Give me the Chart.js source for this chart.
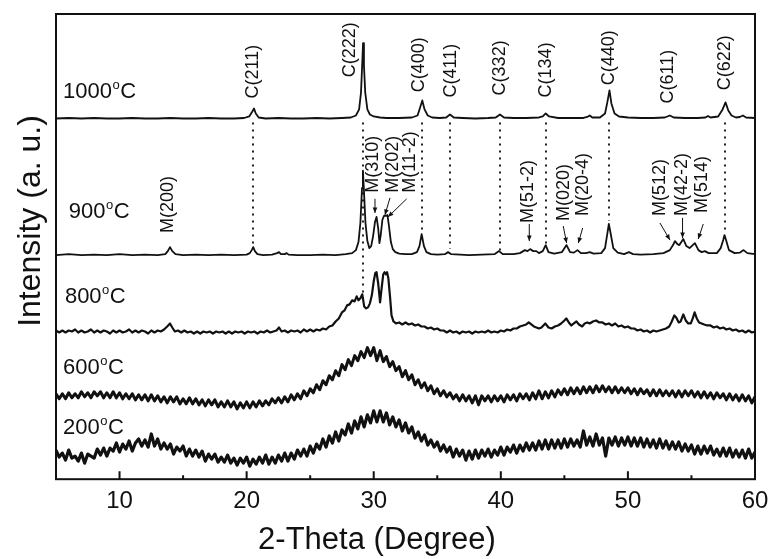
<!DOCTYPE html>
<html>
<head>
<meta charset="utf-8">
<script src="https://cdn.jsdelivr.net/npm/chart.js@4.4.0/dist/chart.umd.min.js"></script>
<style>
  body { margin: 0; background: #fff; }
  #xrd { display: block; }
</style>
</head>
<body>
<canvas id="xrd" width="771" height="559"></canvas>
<script>
const FONT = '"Liberation Sans", Arial, Helvetica, sans-serif';
const INK = '#111';

// 2-theta sampling of the broad (noisy) scans, 0.25 deg step
const scanAngles = Array.from({ length: 221 }, (_, i) => 5 + i * 0.25);

// stacked intensities (a.u.), each temperature shifted up
const int200 = [
  29,22,26,19,29,21,23,18,26,16,25,23,21,30,24,31,23,31,28,36,
  27,35,30,38,28,36,40,33,39,32,45,33,40,30,36,30,35,25,32,28,
  33,23,30,23,29,22,28,18,25,20,25,17,22,17,24,16,21,14,21,16,
  22,13,20,15,22,16,24,15,22,16,24,18,26,18,26,20,29,23,30,23,
  33,26,35,30,40,32,43,36,47,38,49,44,55,46,58,50,62,52,64,56,
  68,57,68,57,66,54,62,52,59,48,56,46,52,41,47,38,44,34,39,32,
  37,28,34,27,32,22,30,23,29,19,28,20,29,21,29,23,30,22,29,24,
  32,24,32,27,34,26,34,28,36,29,36,29,38,30,39,30,39,31,39,31,
  40,32,40,33,39,32,48,34,42,33,45,34,41,23,41,34,42,33,41,34,
  42,33,41,33,41,32,40,32,39,31,40,31,38,30,37,30,37,28,35,28,
  34,25,33,25,33,26,33,24,30,23,31,23,31,22,29,22,29,21,30,21,
  27
];
const int600 = [
  85,80,85,80,86,81,85,81,87,82,86,81,87,83,87,81,86,81,87,81,
  86,80,85,80,85,79,84,79,84,78,84,78,83,77,82,76,82,77,82,75,
  80,75,81,75,80,74,79,73,79,74,79,72,77,72,78,72,77,70,76,71,
  77,71,77,72,78,73,78,74,80,76,81,76,82,77,84,79,85,80,88,83,
  90,86,94,89,98,94,103,99,108,103,114,109,119,113,123,118,127,121,131,123,
  131,118,128,117,122,112,117,108,112,102,108,99,104,94,99,91,96,88,93,85,
  90,83,88,82,86,80,84,78,84,78,83,76,83,74,83,78,83,77,83,78,
  83,77,84,79,84,78,85,80,85,79,86,80,88,80,87,81,88,82,89,84,
  90,84,91,85,91,85,92,86,92,86,93,87,93,87,92,86,92,86,91,86,
  91,85,90,84,90,85,89,83,89,83,89,83,88,83,88,82,88,82,88,83,
  88,82,87,81,87,81,86,80,86,81,85,79,85,79,84,78,84,78,83,76,
  82
];
const scan800 = [
  [5,148],[5.25,146],[5.5,148],[5.75,146],[6,148],[6.25,147],[6.5,149],[6.75,146],[7,148],[7.25,146],
  [7.5,147],[7.75,149],[8,146],[8.25,148],[8.5,146],[8.75,148],[9,147],[9.25,145],[9.5,148],[9.75,146],
  [10,148],[10.25,146],[10.5,147],[10.75,149],[11,146],[11.25,148],[11.5,146],[11.75,148],[12,147],[12.25,145],
  [12.5,148],[12.75,146],[13,148],[13.25,147],[13.5,149],[13.75,152],[13.97,155],[14.15,151],[14.35,147],[14.6,148],
  [14.85,146],[15.1,148],[15.35,146],[15.6,147],[15.85,145],[16.1,147],[16.35,145],[16.6,147],[16.85,146],[17.1,147],
  [17.35,145],[17.6,147],[17.85,146],[18.1,147],[18.35,145],[18.6,147],[18.85,145],[19.1,147],[19.35,146],[19.6,147],
  [19.85,145],[20.1,147],[20.35,146],[20.6,147],[20.85,145],[21.1,147],[21.35,146],[21.6,148],[21.85,146],[22.1,147],
  [22.35,148],[22.55,151],[22.75,147],[23,148],[23.25,146],[23.5,148],[23.75,147],[24,148],[24.25,146],[24.5,149],
  [24.75,147],[25,149],[25.25,147],[25.5,149],[25.75,148],[26,150],[26.25,149],[26.5,152],[26.75,153],[27,157],
  [27.25,160],[27.5,166],[27.7,168],[27.9,173],[28.1,174],[28.3,178],[28.5,177],[28.66,182],[28.8,178],[28.95,180],
  [29.1,184],[29.25,172],[29.4,170],[29.55,171],[29.7,175],[29.85,183],[30,197],[30.12,205],[30.22,206],[30.35,195],
  [30.5,176],[30.62,190],[30.75,204],[30.85,206],[30.95,204],[31.05,206],[31.15,200],[31.28,182],[31.4,163],[31.55,157],
  [31.75,155],[32,156],[32.25,154],[32.5,156],[32.75,154],[33,155],[33.25,153],[33.5,154],[33.75,152],[34,152],
  [34.25,150],[34.5,151],[34.75,149],[35,150],[35.25,148],[35.5,148],[35.75,146],[36,148],[36.25,146],[36.5,147],
  [36.75,145],[37,147],[37.25,146],[37.5,147],[37.75,145],[38,147],[38.25,146],[38.5,147],[38.75,146],[39,148],
  [39.25,146],[39.5,147],[39.75,146],[40,148],[40.25,147],[40.5,149],[40.75,148],[41,150],[41.25,150],[41.5,152],
  [41.75,153],[42,154],[42.2,156],[42.4,154],[42.6,152],[42.8,151],[43,150],[43.2,151],[43.5,155],[43.75,151],
  [44,150],[44.25,152],[44.5,153],[44.75,155],[45,158],[45.15,160],[45.35,156],[45.55,153],[45.75,155],[45.95,157],
  [46.15,154],[46.4,152],[46.6,155],[46.8,156],[47,155],[47.25,157],[47.5,158],[47.75,156],[48,156],[48.25,154],
  [48.5,155],[48.75,153],[49,155],[49.25,152],[49.5,153],[49.75,151],[50,152],[50.25,150],[50.5,150],[50.75,148],
  [51,149],[51.25,147],[51.5,148],[51.75,146],[52,148],[52.25,147],[52.5,148],[52.75,149],[53,150],[53.25,152],
  [53.45,157],[53.65,163],[53.8,161],[54,156],[54.15,157],[54.36,164],[54.55,158],[54.75,155],[54.95,155],[55.1,160],
  [55.25,166],[55.42,160],[55.6,156],[55.8,155],[56,154],[56.25,153],[56.5,153],[56.75,151],[57,152],[57.25,150],
  [57.5,151],[57.75,149],[58,150],[58.25,148],[58.5,149],[58.75,147],[59,148],[59.25,146],[59.5,148],[59.75,146],
  [60,147]
];
const scan900 = [
  [5,223],[6,224],[7,223],[8,223.5],[9,223],[10,224],[11,223],[12,223.5],[13,223],[13.6,224],
  [13.8,227],[13.97,231],[14.15,227],[14.4,224],[15,223],[16,223.5],[17,223],[18,223.5],[19,223],[20,223.5],
  [20.25,225],[20.4,228],[20.52,231],[20.65,227],[20.85,224],[21.3,223],[22,223.5],[22.4,225],[22.55,226],[22.7,224],
  [23,224],[23.15,225],[23.3,223.5],[24,223],[25,223],[26,223.5],[27,223],[27.8,224],[28.3,225],[28.6,228],
  [28.8,236],[28.95,255],[29.08,290],[29.15,307],[29.22,290],[29.35,255],[29.5,237],[29.65,230],[29.8,232],[29.95,242],
  [30.1,256],[30.22,261],[30.35,250],[30.45,235],[30.55,243],[30.68,258],[30.8,262],[30.95,262],[31.08,263],[31.2,252],
  [31.35,236],[31.5,229],[31.7,226],[32,224.5],[32.5,224],[33,224],[33.4,226],[33.6,232],[33.77,244],[33.95,232],
  [34.15,226],[34.5,224],[35,223.5],[35.6,224],[35.85,226],[36.1,224],[36.8,223.5],[37.5,223],[38.5,223.5],[39.5,224],
  [39.86,227],[40.15,224],[41,224],[41.5,225],[41.9,228],[42.1,227],[42.3,229],[42.55,227],[42.8,227],[43,225],
  [43.3,227],[43.53,233],[43.75,226],[44.2,224.5],[44.8,226],[45.17,233],[45.45,226],[45.75,225.5],[46.03,228],[46.3,225],
  [46.7,225],[47,226],[47.3,224.5],[47.9,225],[48.2,230],[48.4,246],[48.5,254],[48.62,246],[48.85,230],[49.2,225.5],
  [49.7,224],[50.08,226],[50.4,224],[51,223.5],[52,224],[52.8,225],[53.3,228],[53.55,233],[53.7,237],[53.9,234],
  [54.05,233],[54.36,239],[54.6,232],[54.85,230],[55.27,235],[55.55,228],[55.8,226],[56.06,227],[56.35,225],[57,225],
  [57.3,230],[57.5,238],[57.6,243],[57.72,238],[57.95,228],[58.4,225],[58.8,225.5],[59.1,228],[59.4,225],[60,224]
];
const scan1000 = [
  [5,359],[6,359.5],[7,359],[8,359.5],[9,359],[10,359],[11,359.5],[12,359],[13,359],[14,359.5],
  [15,359],[16,359],[17,359.5],[18,359],[19,359],[19.8,359.5],[20.2,361],[20.45,366],[20.58,369],[20.72,364],
  [20.95,360],[21.5,359],[22.5,359.5],[23.5,359],[24.5,359],[25.5,359.5],[26.5,359],[27.5,359.5],[28.2,360],[28.6,362],
  [28.85,368],[29.0,385],[29.1,415],[29.16,434],[29.23,412],[29.33,385],[29.5,368],[29.7,363],[30,361],[30.5,360],
  [31,359.5],[32,359.5],[33,360],[33.45,362],[33.65,370],[33.82,377],[34.0,368],[34.25,362],[34.6,360],[35.2,359.5],
  [35.7,360],[36.0,363],[36.3,360],[37,359.5],[38,359],[39,359.5],[39.6,360],[39.93,363],[40.25,360],[41,359.5],
  [42,359.5],[43,360],[43.3,361],[43.53,364],[43.8,361],[44.5,359.5],[45.5,359.5],[46.5,359.5],[46.8,360.5],[47.0,362],
  [47.2,360],[47.8,360],[48.2,364],[48.38,375],[48.55,387],[48.7,374],[48.95,364],[49.3,361],[50,360],[51,359.5],
  [52,359.5],[52.9,360],[53.3,362],[53.6,360],[54.5,359.5],[55.5,359.5],[56.1,360],[56.3,361.5],[56.5,360],[57.1,361],
  [57.45,368],[57.68,375],[57.9,367],[58.15,362],[58.5,360],[58.8,360.5],[59.05,362],[59.3,360],[60,359.5]
];

const temps = ['1000', '900', '800', '600', '200'];
const tempLabelX = [5.55, 6.0, 5.7, 5.55, 5.55];
const tempLabelY = [379, 260, 175, 105, 45];

// cubic reflections (labels over the 1000 C scan) and their guide lines
const cubicNames = ['C(211)', 'C(222)', 'C(400)', 'C(411)', 'C(332)', 'C(134)', 'C(440)', 'C(611)', 'C(622)'];
const cubicLabelX = [20.5, 28.13, 33.56, 36.08, 39.93, 43.53, 48.51, 53.15, 57.64];
const cubicLabelY = [379, 400, 385, 380, 382, 380, 392, 374, 387];
const guideX = [20.5, 29.15, 33.8, 36.0, 39.9, 43.55, 48.55, 57.65];
const guideBottom = [232, 175, 247, 229, 227, 232, 257, 245];
const guideTop = 355;

// monoclinic reflections over the 900 C scan
const monoNames = ['M(200)', 'M(310)', 'M(202)', 'M(11-2)', 'M(51-2)', 'M(020)', 'M(20-4)', 'M(512)', 'M(42-2)', 'M(514)'];
const monoLabelX = [13.81, 29.94, 31.51, 32.85, 42.13, 44.97, 46.44, 52.52, 54.23, 55.8];
const monoLabelY = [245, 285, 285, 285, 255, 257, 262, 262, 262, 265];
// arrows: [from deg, from a.u., to deg, to a.u.]
const monoArrows = [
  null,
  [30.1, 279, 30.1, 265],
  [31.28, 280, 30.88, 263],
  [32.59, 279, 31.12, 261],
  [42.24, 254, 42.24, 237],
  [44.91, 252, 45.18, 235],
  [46.44, 250, 46.1, 235],
  [52.52, 255, 53.31, 238],
  [54.3, 260, 54.3, 240],
  [55.93, 254, 55.53, 239]
];

const xMajorTicks = [10, 20, 30, 40, 50, 60];
const xMinorTicks = [15, 25, 35, 45, 55];

const annotate = {
  id: 'annotate',
  beforeDatasetsDraw(chart) {
    const { ctx, scales: { x, y } } = chart;
    ctx.save();
    ctx.strokeStyle = '#222';
    ctx.lineWidth = 2;
    ctx.setLineDash([2, 5]);
    guideX.forEach((g, i) => {
      const gx = Math.round(x.getPixelForValue(g));
      ctx.beginPath();
      ctx.moveTo(gx, y.getPixelForValue(guideTop));
      ctx.lineTo(gx, y.getPixelForValue(guideBottom[i]));
      ctx.stroke();
    });
    ctx.restore();
  },
  afterDraw(chart) {
    const { ctx, chartArea: a, scales: { x, y } } = chart;
    ctx.save();
    ctx.fillStyle = INK;
    ctx.strokeStyle = INK;

    // frame and inward ticks
    ctx.lineWidth = 2;
    ctx.strokeRect(a.left, a.top, a.right - a.left, a.bottom - a.top);
    ctx.beginPath();
    xMajorTicks.forEach(v => {
      const px = x.getPixelForValue(v);
      ctx.moveTo(px, a.bottom); ctx.lineTo(px, a.bottom - 8);
    });
    xMinorTicks.forEach(v => {
      const px = x.getPixelForValue(v);
      ctx.moveTo(px, a.bottom); ctx.lineTo(px, a.bottom - 4);
    });
    ctx.stroke();

    const vtext = (str, px, py) => {
      ctx.save();
      ctx.translate(px, py);
      ctx.rotate(-Math.PI / 2);
      ctx.textAlign = 'left';
      ctx.textBaseline = 'middle';
      ctx.fillText(str, 0, 0);
      ctx.restore();
    };

    ctx.font = '18px ' + FONT;
    cubicNames.forEach((n, i) => vtext(n, x.getPixelForValue(cubicLabelX[i]), y.getPixelForValue(cubicLabelY[i])));
    monoNames.forEach((n, i) => vtext(n, x.getPixelForValue(monoLabelX[i]), y.getPixelForValue(monoLabelY[i])));

    // arrows pointing at the monoclinic peaks
    ctx.lineWidth = 1;
    monoArrows.forEach(ar => {
      if (!ar) return;
      const x1 = x.getPixelForValue(ar[0]), y1 = y.getPixelForValue(ar[1]);
      const x2 = x.getPixelForValue(ar[2]), y2 = y.getPixelForValue(ar[3]);
      const ang = Math.atan2(y2 - y1, x2 - x1);
      ctx.beginPath();
      ctx.moveTo(x1, y1); ctx.lineTo(x2, y2);
      ctx.stroke();
      ctx.beginPath();
      ctx.moveTo(x2, y2);
      ctx.lineTo(x2 - 6 * Math.cos(ang - 0.4), y2 - 6 * Math.sin(ang - 0.4));
      ctx.lineTo(x2 - 6 * Math.cos(ang + 0.4), y2 - 6 * Math.sin(ang + 0.4));
      ctx.closePath();
      ctx.fill();
    });

    // temperature labels with superscript o
    ctx.textAlign = 'left';
    ctx.textBaseline = 'alphabetic';
    temps.forEach((t, i) => {
      const px = x.getPixelForValue(tempLabelX[i]);
      const py = y.getPixelForValue(tempLabelY[i]);
      ctx.font = '22px ' + FONT;
      ctx.fillText(t, px, py);
      let w = ctx.measureText(t).width + 0.5;
      ctx.font = '13px ' + FONT;
      ctx.fillText('o', px + w, py - 9);
      w += ctx.measureText('o').width + 0.5;
      ctx.font = '22px ' + FONT;
      ctx.fillText('C', px + w, py);
    });

    // axis titles
    ctx.textAlign = 'center';
    ctx.textBaseline = 'middle';
    ctx.font = '31px ' + FONT;
    ctx.fillText('2-Theta (Degree)', 377, 540);
    ctx.save();
    ctx.translate(31, 221);
    ctx.rotate(-Math.PI / 2);
    ctx.font = '32px ' + FONT;
    ctx.fillText('Intensity (a. u.)', 0, 0);
    ctx.restore();

    ctx.restore();
  }
};

const toPoints = vals => vals.map((v, i) => ({ x: scanAngles[i], y: v }));
const toXY = pairs => pairs.map(p => ({ x: p[0], y: p[1] }));

const line = (label, data, width) => ({
  label,
  data,
  borderColor: INK,
  borderWidth: width,
  pointRadius: 0,
  tension: 0,
  fill: false,
  borderJoinStyle: 'round'
});

new Chart(document.getElementById('xrd'), {
  type: 'line',
  data: {
    datasets: [
      line('1000', toXY(scan1000), 1.8),
      line('900', toXY(scan900), 1.8),
      line('800', toXY(scan800), 2.2),
      line('600', toPoints(int600), 3),
      line('200', toPoints(int200), 3.2)
    ]
  },
  options: {
    responsive: false,
    animation: false,
    layout: { padding: { left: 56, right: 16, top: 14, bottom: 35 } },
    plugins: { legend: { display: false }, tooltip: { enabled: false } },
    scales: {
      x: {
        type: 'linear',
        min: 5,
        max: 60,
        afterBuildTicks: scale => { scale.ticks = xMajorTicks.map(v => ({ value: v })); },
        // the "60" label may hang past the frame; keep the plot edge fixed
        afterFit: scale => { scale.paddingLeft = 0; scale.paddingRight = 0; },
        grid: { display: false, drawTicks: false },
        border: { display: false },
        ticks: { color: INK, font: { family: FONT, size: 24 }, padding: 8, maxRotation: 0 }
      },
      y: {
        display: false,
        min: 0,
        max: 463
      }
    }
  },
  plugins: [annotate]
});
</script>
</body>
</html>
